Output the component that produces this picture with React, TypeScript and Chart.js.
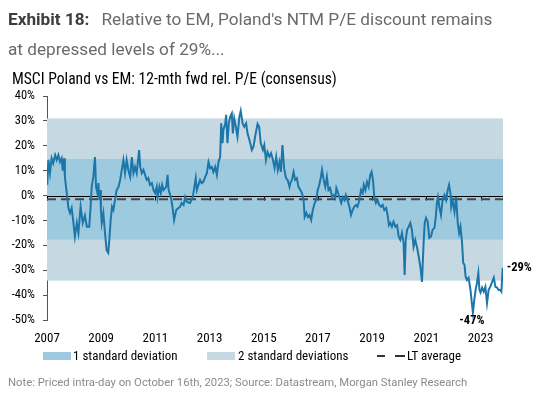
import React, { useEffect, useRef } from "react";
import { Chart, registerables } from "chart.js";

Chart.register(...registerables);

// ---- Data ----
const years: number[] = [
  2007.01, 2007.05, 2007.11, 2007.17, 2007.23, 2007.30, 2007.36, 2007.42, 2007.48, 2007.54,
  2007.58, 2007.63, 2007.66, 2007.73, 2007.79, 2007.85, 2007.91, 2007.97, 2008.03, 2008.10,
  2008.16, 2008.24, 2008.32, 2008.40, 2008.47, 2008.56, 2008.61, 2008.65, 2008.71, 2008.77,
  2008.81, 2008.86, 2008.90, 2008.93, 2008.96, 2008.99, 2009.02, 2009.08, 2009.14, 2009.20,
  2009.26, 2009.30, 2009.35, 2009.40, 2009.45, 2009.51, 2009.57, 2009.64, 2009.70, 2009.76,
  2009.82, 2009.88, 2009.94, 2010.00, 2010.07, 2010.13, 2010.19, 2010.25, 2010.31, 2010.40,
  2010.44, 2010.50, 2010.56, 2010.62, 2010.68, 2010.74, 2010.80, 2010.87, 2010.93, 2010.99,
  2011.05, 2011.08, 2011.15, 2011.20, 2011.25, 2011.30, 2011.40, 2011.45, 2011.49, 2011.57,
  2011.63, 2011.69, 2011.77, 2011.85, 2011.91, 2011.97, 2012.04, 2012.10, 2012.16, 2012.28,
  2012.38, 2012.44, 2012.49, 2012.53, 2012.59, 2012.65, 2012.71, 2012.77, 2012.84, 2012.90,
  2012.96, 2013.02, 2013.08, 2013.14, 2013.21, 2013.27, 2013.33, 2013.39, 2013.43, 2013.48,
  2013.51, 2013.58, 2013.61, 2013.66, 2013.71, 2013.76, 2013.82, 2013.86, 2013.91, 2013.97,
  2014.03, 2014.10, 2014.15, 2014.22, 2014.28, 2014.35, 2014.40, 2014.47, 2014.56, 2014.62,
  2014.68, 2014.77, 2014.83, 2014.89, 2014.97, 2015.02, 2015.08, 2015.14, 2015.21, 2015.27,
  2015.34, 2015.40, 2015.46, 2015.52, 2015.58, 2015.63, 2015.69, 2015.75, 2015.82, 2015.88,
  2015.95, 2015.98, 2016.04, 2016.10, 2016.16, 2016.22, 2016.28, 2016.35, 2016.41, 2016.47,
  2016.51, 2016.57, 2016.63, 2016.69, 2016.75, 2016.81, 2016.88, 2016.94, 2016.99, 2017.05,
  2017.11, 2017.15, 2017.21, 2017.27, 2017.33, 2017.39, 2017.45, 2017.52, 2017.58, 2017.64,
  2017.68, 2017.73, 2017.80, 2017.86, 2017.92, 2017.98, 2018.03, 2018.09, 2018.16, 2018.22,
  2018.28, 2018.34, 2018.40, 2018.46, 2018.53, 2018.59, 2018.65, 2018.69, 2018.75, 2018.81,
  2018.87, 2018.93, 2018.98, 2019.03, 2019.08, 2019.14, 2019.20, 2019.26, 2019.33, 2019.39,
  2019.45, 2019.52, 2019.57, 2019.62, 2019.67, 2019.73, 2019.79, 2019.86, 2019.92, 2019.98,
  2020.04, 2020.10, 2020.16, 2020.20, 2020.24, 2020.29, 2020.35, 2020.41, 2020.47, 2020.53,
  2020.59, 2020.66, 2020.72, 2020.78, 2020.84, 2020.90, 2020.94, 2020.99, 2021.05, 2021.11,
  2021.17, 2021.23, 2021.30, 2021.35, 2021.39, 2021.43, 2021.48, 2021.54, 2021.60, 2021.67,
  2021.73, 2021.79, 2021.84, 2021.89, 2021.92, 2021.97, 2022.04, 2022.10, 2022.16, 2022.21,
  2022.26, 2022.32, 2022.36, 2022.41, 2022.45, 2022.50, 2022.56, 2022.63, 2022.68, 2022.72,
  2022.77, 2022.82, 2022.87, 2022.92, 2022.96, 2023.00, 2023.06, 2023.12, 2023.18, 2023.24,
  2023.30, 2023.36, 2023.43, 2023.49, 2023.55, 2023.61, 2023.67, 2023.73, 2023.77, 2023.82,
];

const relPE: number[] = [
  4.3, 14.3, 9, 15, 13, 16.3, 14.3, 16.3, 13.5, 15,
  10, 15, 7.5, 1, -5, -7, -5, -10.5, -16.5, -11,
  -15, -4.5, -11, -8, -12.5, -12.5, -4.5, 3.5, 7.5, 15.5,
  3.5, 1, 5, -1.8, 2.2, -5.8, -11, -7, -15, -21.9,
  -23, -17.8, -9.8, -4.5, -5.8, -1.8, 2.2, 3.5, 6.3, 10.3,
  14.3, 9, 14.3, 10.3, 7.5, 15.5, 9, 11.5, 9, 18.3,
  11.5, 9, 10.3, 8.3, 6.3, 7, 4.3, 5, 2.2, 1,
  3.5, -0.6, 3.5, 1, 4.3, 2.2, 3.5, 8.3, 2.2, -0.6,
  -4.5, -9.8, -5.8, -5, -4.5, -3, -3.8, -0.6, -2.6, -3,
  -0.6, 3.5, 7, 2.2, 4.3, 6.3, 5, 5.5, 7.5, 9,
  13.5, 11, 11.5, 9.5, 11.5, 8.3, 13.5, 15.5, 29, 21,
  26.3, 29, 32.4, 21, 29, 31.6, 33, 25, 31, 27.6,
  23.6, 31.6, 34, 29, 27.6, 29, 25, 22.4, 18.3, 19.6,
  23.6, 28.8, 27.6, 21, 18.3, 20.3, 14.3, 17.5, 15.5, 17,
  14.3, 11, 15.5, 10.3, 13.5, 9.5, 20.3, 11, 7, 6.3,
  3.5, 5, 6.3, 9.5, 6.3, 7, 3.5, 2.2, 1, -1.8,
  -8.6, -7, -8.6, -7.8, -9.8, -5.8, -3, -1.8, 2.2, 4.3,
  7.5, 10.3, 6.3, 3.5, 7.5, 2.2, 3, -0.6, 0.2, -1,
  3, 1.5, -1, -3, -0.6, -1.8, 0.2, -1.8, -4.5, -7.8,
  -5.8, -4.5, -3.8, -4.5, -1.8, 2.2, 1, 4.3, 2.2, 5.5,
  3.5, 8.3, 9.5, 6.3, -0.6, -3, -1.8, -3.8, -4.5, -3.8,
  -5.8, -5, -7.8, -11.9, -11, -12.5, -10.5, -12.5, -11.9, -16.5,
  -17.8, -15, -19, -31.9, -17.8, -13.8, -12.5, -11, -13.8, -20.6,
  -17.8, -21, -24.6, -28.6, -34.7, -19, -11, -9, -10.5, -17,
  -16.5, -13.8, -13, -8.6, -3, -0.6, -4.5, -7.8, -1.8, 0.2,
  -1.8, 2.2, 4.3, 1, -4.5, -1.8, -6.5, -0.6, -11, -15,
  -12.5, -19, -27, -27.9, -32.6, -33.9, -33, -37.9, -43.2, -47,
  -41.9, -37.9, -35, -31.2, -37.9, -39, -37, -38.6, -36.7, -43.2,
  -37.9, -36.7, -34.7, -33, -36.7, -37, -37.9, -37.9, -38.6, -29,
];

const yTicks: number[] = [40, 30, 20, 10, 0, -10, -20, -30, -40, -50];
const xTickYears: number[] = [2007, 2009, 2011, 2013, 2015, 2017, 2019, 2021, 2023];
const xRange: number[] = [2007, 2023.83];
const ltAverage = -1.5;
const oneSdBand: number[] = [-17.7, 14.7];
const twoSdBand: number[] = [-34.2, 31.0];

const NARROW = "'Liberation Sans Narrow', 'Roboto Condensed', 'DejaVu Sans Condensed', sans-serif";
const LINE_COLOR = "#1c76a9";
const ONE_SD_COLOR = "#9ecadf";
const TWO_SD_COLOR = "#c6d9e3";
const AVG_COLOR = "#474747";

const bandsPlugin = {
  id: "bandsAndRefs",
  beforeDatasetsDraw(chart: any) {
    const { ctx, chartArea: a, scales } = chart;
    const x = scales.x;
    const y = scales.y;
    ctx.save();
    const rect = (lo: number, hi: number, color: string) => {
      const t = y.getPixelForValue(hi);
      const b = y.getPixelForValue(lo);
      ctx.fillStyle = color;
      ctx.fillRect(a.left, t, a.right - a.left, b - t);
    };
    rect(twoSdBand[0], twoSdBand[1], TWO_SD_COLOR);
    rect(oneSdBand[0], oneSdBand[1], ONE_SD_COLOR);

    const y0 = Math.round(y.getPixelForValue(0)) + 0.5;
    ctx.strokeStyle = "#000";
    ctx.lineWidth = 1;
    ctx.beginPath();
    ctx.moveTo(a.left, y0);
    ctx.lineTo(a.right, y0);
    xTickYears.forEach((v) => {
      const px = Math.round(x.getPixelForValue(v)) + 0.5;
      ctx.moveTo(px, y0);
      ctx.lineTo(px, y0 + 4);
    });
    ctx.stroke();

    const ya = y.getPixelForValue(ltAverage);
    ctx.strokeStyle = AVG_COLOR;
    ctx.lineWidth = 2;
    ctx.setLineDash([9, 5]);
    ctx.beginPath();
    ctx.moveTo(a.left, ya);
    ctx.lineTo(a.right, ya);
    ctx.stroke();
    ctx.restore();
  },
  afterDatasetsDraw(chart: any) {
    const { ctx, scales } = chart;
    const x = scales.x;
    const y = scales.y;
    ctx.save();
    ctx.fillStyle = "#000";
    ctx.font = `bold 12.5px ${NARROW}`;
    const last = relPE.length - 1;
    ctx.textAlign = "left";
    ctx.textBaseline = "middle";
    ctx.fillText(
      `${Math.round(relPE[last])}%`,
      x.getPixelForValue(years[last]) + 4,
      y.getPixelForValue(relPE[last])
    );
    let mi = 0;
    relPE.forEach((v, i) => {
      if (v < relPE[mi]) mi = i;
    });
    ctx.textAlign = "center";
    ctx.textBaseline = "top";
    ctx.fillText(
      `${Math.round(relPE[mi])}%`,
      x.getPixelForValue(years[mi]) - 1,
      y.getPixelForValue(relPE[mi]) + 2
    );
    ctx.restore();
  },
};

function RelPEChart() {
  const ref = useRef<HTMLCanvasElement | null>(null);
  useEffect(() => {
    if (!ref.current) return;
    const points = years.map((yr, i) => ({ x: yr, y: relPE[i] }));
    const chart = new Chart(ref.current, {
      type: "line",
      data: {
        datasets: [
          {
            data: points,
            borderColor: LINE_COLOR,
            borderWidth: 2,
            pointRadius: 0,
            tension: 0,
            fill: false,
          },
        ],
      },
      options: {
        animation: false,
        responsive: false,
        events: [],
        layout: { padding: { left: 0, right: 37, top: 96, bottom: 45 } },
        plugins: { legend: { display: false }, tooltip: { enabled: false } },
        scales: {
          x: {
            type: "linear",
            min: xRange[0],
            max: xRange[1],
            afterBuildTicks: (s: any) => {
              s.ticks = xTickYears.map((v) => ({ value: v }));
            },
            afterFit: (s: any) => {
              s.height = 30;
            },
            grid: { display: false },
            border: { display: false },
            ticks: {
              font: { family: NARROW, size: 13 },
              color: "#000",
              padding: 3,
              maxRotation: 0,
              autoSkip: false,
              callback: (v: any) => String(v),
            },
          },
          y: {
            type: "linear",
            min: -50,
            max: 40,
            afterBuildTicks: (s: any) => {
              s.ticks = yTicks.map((v) => ({ value: v }));
            },
            afterFit: (s: any) => {
              s.width = 47;
            },
            grid: { drawOnChartArea: false, drawTicks: true, tickLength: 4, color: "#555" },
            border: { display: true, color: "#555", width: 1 },
            ticks: {
              font: { family: NARROW, size: 12.5 },
              color: "#000",
              padding: 8,
              callback: (v: any) => `${v}%`,
            },
          },
        },
      } as any,
      plugins: [bandsPlugin],
    });
    return () => chart.destroy();
  }, []);
  return (
    <canvas
      ref={ref}
      width={540}
      height={395}
      style={{ position: "absolute", left: 0, top: 0, width: 540, height: 395 }}
    />
  );
}

const abs = (extra: React.CSSProperties): React.CSSProperties => ({
  position: "absolute",
  whiteSpace: "nowrap",
  margin: 0,
  ...extra,
});

export default function App() {
  const legendFont: React.CSSProperties = {
    fontFamily: NARROW,
    fontSize: 13,
    lineHeight: "13px",
    color: "#000",
  };
  return (
    <div
      style={{
        position: "fixed",
        left: 0,
        top: 0,
        width: 540,
        height: 395,
        background: "#fff",
        overflow: "hidden",
      }}
    >
      <RelPEChart />
      <div
        style={abs({
          left: 8,
          top: 10.5,
          fontFamily: "Roboto, sans-serif",
          fontSize: 17.2,
          lineHeight: "17px",
          color: "#6a6a6a",
        })}
      >
        <span style={{ fontWeight: 700, color: "#3d3d3d", marginRight: 12 }}>Exhibit 18:</span>
        Relative to EM, Poland's NTM P/E discount remains
      </div>
      <div
        style={abs({
          left: 8,
          top: 40.5,
          fontFamily: "Roboto, sans-serif",
          fontSize: 17.2,
          lineHeight: "17px",
          color: "#6a6a6a",
        })}
      >
        at depressed levels of 29%...
      </div>
      <div
        style={abs({
          left: 12,
          top: 72,
          fontFamily: NARROW,
          fontSize: 15.6,
          lineHeight: "15px",
          color: "#000",
        })}
      >
        MSCI Poland vs EM: 12-mth fwd rel. P/E (consensus)
      </div>

      {/* Legend */}
      <div style={abs({ left: 43, top: 352, width: 28, height: 8, background: ONE_SD_COLOR })} />
      <div style={abs({ left: 73, top: 348.5, ...legendFont })}>1 standard deviation</div>
      <div style={abs({ left: 207, top: 352, width: 28, height: 8, background: TWO_SD_COLOR })} />
      <div style={abs({ left: 238, top: 348.5, ...legendFont })}>2 standard deviations</div>
      <div style={abs({ left: 377, top: 355, width: 8, height: 2, background: "#333" })} />
      <div style={abs({ left: 395, top: 355, width: 10, height: 2, background: "#333" })} />
      <div style={abs({ left: 407, top: 348.5, ...legendFont })}>LT average</div>

      <div
        style={abs({
          left: 8,
          top: 377,
          fontFamily: "Roboto, sans-serif",
          fontSize: 11.3,
          lineHeight: "11px",
          color: "#8a8a8a",
        })}
      >
        Note: Priced intra-day on October 16th, 2023; Source: Datastream, Morgan Stanley Research
      </div>
    </div>
  );
}
